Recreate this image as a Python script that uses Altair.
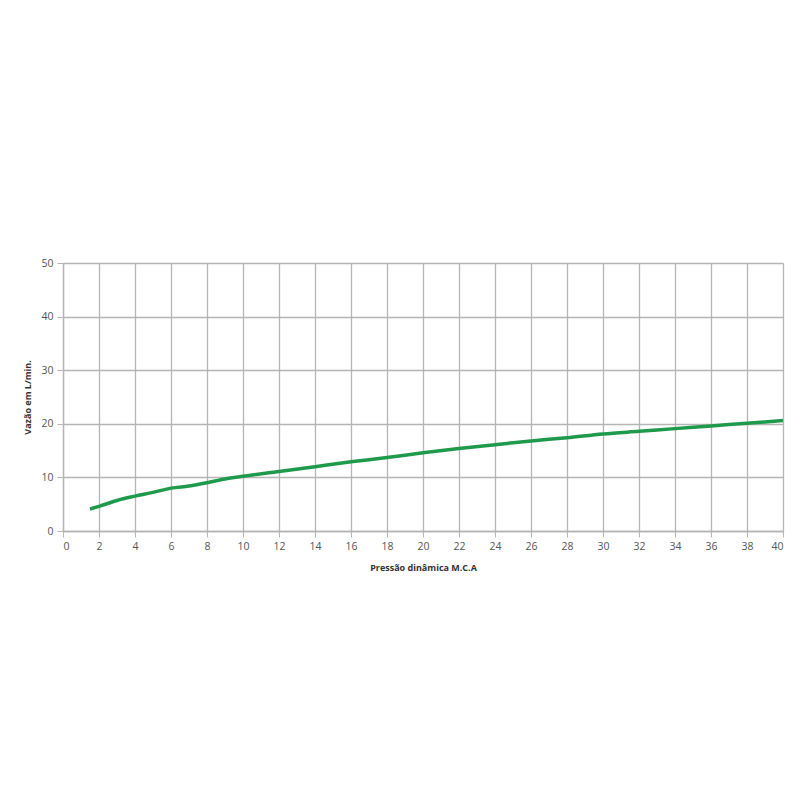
import altair as alt
import pandas as pd

pressao = [1.5, 2, 3, 4, 5, 6, 7, 8, 9, 10, 12, 14, 16, 18, 20, 22, 24, 26, 28, 30, 32, 34, 36, 38, 40]
vazao = [4.1, 4.6, 5.7, 6.5, 7.2, 8.0, 8.4, 9.0, 9.7, 10.2, 11.1, 12.0, 12.9, 13.7, 14.6, 15.4, 16.1, 16.8, 17.4, 18.1, 18.6, 19.1, 19.6, 20.1, 20.6]
x_ticks = list(range(0, 41, 2))
y_ticks = [0, 10, 20, 30, 40, 50]

df = pd.DataFrame({"p": pressao, "v": vazao})

chart = alt.Chart(df).mark_line(color="#1f9a4c", strokeWidth=3.5, interpolate="monotone").encode(
    x=alt.X("p:Q", title="Pressão dinâmica M.C.A",
            scale=alt.Scale(domain=[0, 40], nice=False, zero=True),
            axis=alt.Axis(values=x_ticks, grid=True, gridColor="#b5b5b5", gridWidth=1.3,
                          domainColor="#b5b5b5", domainWidth=1.3, tickColor="#b5b5b5", tickSize=6,
                          labelColor="#555555", labelFontSize=10.5, labelFont="Open Sans",
                          labelPadding=4, titleFont="Open Sans", titleFontSize=9, titleFontWeight="bold",
                          titleColor="#333333", titlePadding=12)),
    y=alt.Y("v:Q", title="Vazão em L/min.",
            scale=alt.Scale(domain=[0, 50], nice=False),
            axis=alt.Axis(values=y_ticks, grid=True, gridColor="#b5b5b5", gridWidth=1.3,
                          domainColor="#b5b5b5", domainWidth=1.3, tickColor="#b5b5b5", tickSize=6,
                          labelColor="#555555", labelFontSize=10.5, labelFont="Open Sans",
                          labelPadding=4, titleFont="Open Sans", titleFontSize=9, titleFontWeight="bold",
                          titleColor="#333333", titlePadding=8)),
).properties(
    width=720, height=268,
    autosize=alt.AutoSizeParams(type="none"),
    padding={"left": 55, "top": 255, "right": 8, "bottom": 250},
).configure_view(stroke=None)

chart.save("out.html", embed_options={"renderer": "svg", "actions": False})
